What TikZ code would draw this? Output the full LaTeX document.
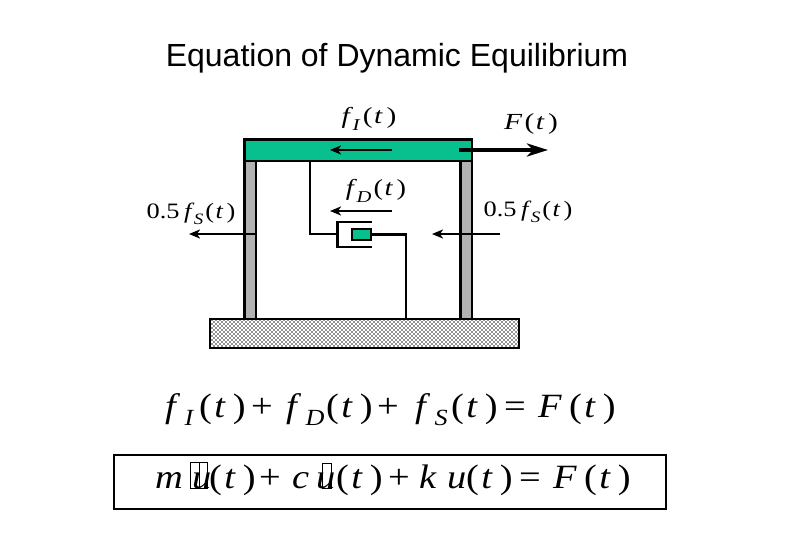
\documentclass[tikz,border=0pt]{standalone}
\usepackage{fontspec}
\usepackage{graphicx}
\setmainfont{Liberation Serif}
\newfontfamily\titlefont{Liberation Sans}
\usetikzlibrary{patterns,arrows.meta}
\definecolor{teal1}{HTML}{08BF8E}
\definecolor{col1}{HTML}{B2B2B2}
\pgfdeclarepatternformonly{sanddots}{\pgfqpoint{-1pt}{-1pt}}{\pgfqpoint{4pt}{4pt}}{\pgfqpoint{4pt}{4pt}}{%
 \pgfpathrectangle{\pgfqpoint{-.55pt}{-.55pt}}{\pgfqpoint{1.1pt}{1.1pt}}%
 \pgfpathrectangle{\pgfqpoint{1.45pt}{1.45pt}}{\pgfqpoint{1.1pt}{1.1pt}}%
 \pgfusepath{fill}}
\newcommand{\fsub}[1]{\textit{f}\raisebox{-.28em}{\kern-.02em\scalebox{.72}{\textit{#1}}}}
\newcommand{\oft}{\kern.08em(\kern.05em\textit{t}\kern.12em)}
\newcommand{\wide}[2]{\scalebox{#1}[1]{#2}}
% pieces of the two equations, set wide as in the reference
\newcommand{\eqpt}{\wide{1.13}{(\kern2pt\textit{t}\kern6.4pt)}}
\newcommand{\eqf}[1]{\wide{1.13}{\textit{f}\kern3.8pt\raisebox{-8pt}{\scalebox{.68}{\textit{#1}}}}}
\newcommand{\eqw}[1]{\wide{1.13}{#1}}
\tikzset{
 member/.style={draw=black,line width=2.8pt,inner sep=0pt,minimum width=0pt},
 wire/.style={draw=black,line width=2.8pt,line join=miter},
 force/.style={draw=black,line width=2.4pt,-{Stealth[length=11pt,width=9pt,inset=3pt]}},
 bigforce/.style={draw=black,line width=4.4pt,-{Stealth[length=21pt,width=13pt,inset=6pt]}},
 lab/.style={inner sep=0pt,font=\fontsize{23}{24}\selectfont},
 labs/.style={inner sep=0pt,font=\fontsize{22}{24}\selectfont},
 eqp/.style={inner sep=0pt,anchor=base west,font=\fontsize{34}{36}\selectfont},
 tofu/.style={draw=black,line width=1pt}
}
\begin{document}
\begin{tikzpicture}[x=1pt,y=-1pt]
\useasboundingbox (0,0) rectangle (810,540);
\node[inner sep=0pt,font=\titlefont\fontsize{32}{34}\selectfont] (title) at (397,58) {Equation of Dynamic Equilibrium};
% frame
\path[member,fill=col1] (244.5,161) rectangle (256,319);
\path[member,fill=col1] (460.5,161) rectangle (472,319);
\path[member,fill=teal1] (244.5,139.5) rectangle (472,161);
\path[draw=black,line width=2pt,pattern=sanddots,pattern color=black] (210,319) rectangle (519,348);
\coordinate (fiA) at (392,150); \coordinate (fiB) at (330,150);
\coordinate (FA) at (459,150); \coordinate (FB) at (548,150);
\coordinate (fdA) at (392,211); \coordinate (fdB) at (330,211);
\coordinate (lA) at (256,234); \coordinate (lB) at (189,234);
\coordinate (rA) at (500,234); \coordinate (rB) at (432,234);
% dashpot
\draw[wire] (310,161) |- (337,234);
\draw[wire] (372,222) -- (337.5,222) -- (337.5,247) -- (372,247);
\node[draw=black,line width=2.6pt,fill=teal1,minimum width=19pt,minimum height=11pt,inner sep=0pt] (pist) at (361.5,234.5) {};
\draw[wire] (pist.east) -- (406,234.5) -- (406,319);
% arrows
\draw[force] (fiA) -- (fiB);
\draw[bigforce] (FA) -- (FB);
\draw[force] (fdA) -- (fdB);
\draw[force] (lA) -- (lB);
\draw[force] (rA) -- (rB);
% labels
\node[lab] (l1) at (369,119) {\wide{1.28}{\fsub{I}\oft}};
\node[lab] (l2) at (531,124) {\wide{1.28}{\textit{F}\oft}};
\node[lab] (l3) at (376,191) {\wide{1.24}{\fsub{D}\oft}};
\node[labs] (l4) at (191,214) {\wide{1.2}{0.5\,\fsub{S}\oft}};
\node[labs] (l5) at (528,212) {\wide{1.2}{0.5\,\fsub{S}\oft}};
% first equation
\node[eqp] (a1) at (165,417) {\eqf{I}};
\node[eqp] (a2) at (199,417) {\eqpt};
\node[eqp] (a3) at (251,417) {\eqw{+}};
\node[eqp] (a4) at (286,417) {\eqf{D}};
\node[eqp] (a5) at (326,417) {\eqpt};
\node[eqp] (a6) at (377,417) {\eqw{+}};
\node[eqp] (a7) at (415,417) {\eqf{S}};
\node[eqp] (a8) at (451,417) {\eqpt};
\node[eqp] (a9) at (504,417) {\eqw{=}};
\node[eqp] (a10) at (538,417) {\eqw{\textit{F}}};
\node[eqp] (a11) at (569,417) {\eqpt};
% boxed equation
\node[draw=black,line width=2pt,minimum width=552pt,minimum height=54pt,inner sep=0pt] (boxe) at (390,482) {};
\node[eqp] (b1) at (155,488) {\eqw{\textit{m}}};
\node[eqp] (b2) at (192,488) {\eqw{\textit{u}}};
\node[eqp] (b3) at (209,488) {\eqpt};
\node[eqp] (b4) at (259,488) {\eqw{+}};
\node[eqp] (b5) at (292,488) {\eqw{\textit{c}}};
\node[eqp] (b6) at (316,488) {\eqw{\textit{u}}};
\node[eqp] (b7) at (336,488) {\eqpt};
\node[eqp] (b8) at (388,488) {\eqw{+}};
\node[eqp] (b9) at (419,488) {\eqw{\textit{k}}};
\node[eqp] (b10) at (447,488) {\eqw{\textit{u}}};
\node[eqp] (b11) at (466,488) {\eqpt};
\node[eqp] (b12) at (519,488) {\eqw{=}};
\node[eqp] (b13) at (553,488) {\eqw{\textit{F}}};
\node[eqp] (b14) at (584,488) {\eqpt};
% missing-glyph boxes
\draw[tofu] (190.5,462) rectangle (207.5,488);
\draw[tofu] (199,462) -- (199,488);
\draw[tofu] (322.5,463) rectangle (331,488);
\end{tikzpicture}
\end{document}
